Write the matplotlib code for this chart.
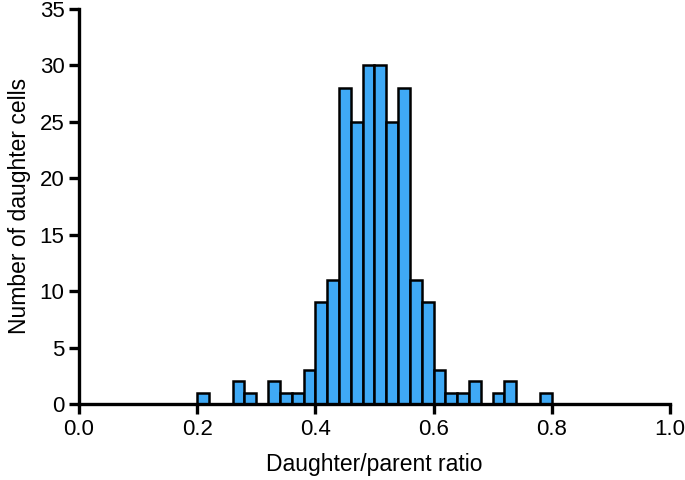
import numpy as np
import matplotlib.pyplot as plt

plt.rcParams['font.family'] = ['Liberation Sans', 'DejaVu Sans']

# left bin edges (width 0.02) and counts per bin
bin_left = [0.20, 0.22, 0.24, 0.26, 0.28, 0.30, 0.32, 0.34, 0.36, 0.38,
            0.40, 0.42, 0.44, 0.46, 0.48, 0.50, 0.52, 0.54, 0.56, 0.58,
            0.60, 0.62, 0.64, 0.66, 0.68, 0.70, 0.72, 0.74, 0.76, 0.78]
counts = [1, 0, 0, 2, 1, 0, 2, 1, 1, 3,
          9, 11, 28, 25, 30, 30, 25, 28, 11, 9,
          3, 1, 1, 2, 0, 1, 2, 0, 0, 1]
bin_width = 0.02

fig = plt.figure(figsize=(6.85, 4.8), dpi=100)
ax = fig.add_axes([0.1153, 0.1583, 0.8627, 0.8235])

x = np.array(bin_left)
y = np.array(counts)
keep = y > 0
ax.bar(x[keep], y[keep], width=bin_width, align='edge', color='#3fa9f5',
       edgecolor='black', linewidth=1.8, zorder=2)

ax.set_xlim(0, 1)
ax.set_ylim(0, 35)
ax.set_xticks(np.arange(0, 1.01, 0.2))
ax.set_xticklabels(['0.0', '0.2', '0.4', '0.6', '0.8', '1.0'])
ax.set_yticks(range(0, 36, 5))

for s in ['top', 'right']:
    ax.spines[s].set_visible(False)
for s in ['left', 'bottom']:
    ax.spines[s].set_linewidth(2.4)
    ax.spines[s].set_zorder(3)
ax.tick_params(width=2.4, length=7.5, labelsize=16, direction='out', pad=3)

ax.set_xlabel('Daughter/parent ratio', fontsize=16.5, labelpad=10)
ax.set_ylabel('Number of daughter cells', fontsize=16.5, labelpad=6)

fig.savefig('out.png', dpi=100)
